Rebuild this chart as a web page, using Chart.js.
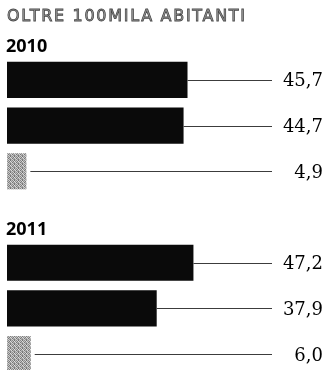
<!DOCTYPE html>
<html lang="it">
<head>
<meta charset="utf-8">
<title>Oltre 100mila abitanti</title>
<script src="https://cdn.jsdelivr.net/npm/chart.js@4.4.1/dist/chart.umd.min.js"></script>
<style>
  html, body { margin: 0; padding: 0; background: #fff; overflow: hidden; }
  #wrap { position: relative; width: 328px; height: 370px; overflow: hidden; }
  canvas { display: block; }
</style>
</head>
<body>
<div id="wrap"><canvas id="chart" width="328" height="382"></canvas></div>
<script>
// Heading and group years
const chartTitle = 'OLTRE 100MILA ABITANTI';
const years = ['2010', '2011'];

// Three answers per year
const values2010 = [45.7, 44.7, 4.9];
const values2011 = [47.2, 37.9, 6.0];

// One empty row separates the two year blocks
const rowValues = [...values2010, null, ...values2011];
const rowLabels = ['2010 a', '2010 b', '2010 c', '', '2011 a', '2011 b', '2011 c'];
const groupFirstRow = [0, 4];

// Stippled grey used for the small third bar
function stipple() {
  const c = document.createElement('canvas');
  c.width = 4; c.height = 4;
  const g = c.getContext('2d');
  const shades = [
    ['#8a8a8a', '#d0d0d0', '#6f6f6f', '#bdbdbd'],
    ['#c4c4c4', '#7b7b7b', '#e0e0e0', '#909090'],
    ['#757575', '#b5b5b5', '#9c9c9c', '#d8d8d8'],
    ['#cfcfcf', '#969696', '#808080', '#a8a8a8']
  ];
  for (let y = 0; y < 4; y++) for (let x = 0; x < 4; x++) {
    g.fillStyle = shades[y][x];
    g.fillRect(x, y, 1, 1);
  }
  return g.createPattern(c, 'repeat');
}
const grey = stipple();
const barColors = rowLabels.map((l, i) => (i % 4 === 2 ? grey : '#0a0a0a'));

const fmt = v => v.toFixed(1).replace('.', ',');

const annotations = {
  id: 'annotations',
  afterDatasetsDraw(chart) {
    const ctx = chart.ctx;
    const meta = chart.getDatasetMeta(0);
    const lineEnd = 272;
    ctx.save();
    meta.data.forEach((bar, i) => {
      const v = rowValues[i];
      if (v == null) return;
      const small = i % 4 === 2;
      const y = Math.round(bar.y) + 0.5;
      ctx.strokeStyle = '#3c3c3c';
      ctx.lineWidth = 1.2;
      ctx.beginPath();
      ctx.moveTo(bar.x + (small ? 4 : 0), y);
      ctx.lineTo(lineEnd, y);
      ctx.stroke();
      ctx.fillStyle = '#000';
      ctx.font = '18px "DejaVu Serif"';
      ctx.textAlign = 'right';
      ctx.textBaseline = 'alphabetic';
      ctx.fillText(fmt(v), 323, bar.y + 6.5);
    });
    // year headings above each block
    ctx.font = 'bold 18px "Open Sans"';
    ctx.fillStyle = '#000';
    ctx.textAlign = 'left';
    groupFirstRow.forEach((r, k) => {
      const bar = meta.data[r];
      ctx.fillText(years[k], 6, bar.y - bar.height / 2 - 10);
    });
    // heading
    ctx.font = '16px "DejaVu Sans"';
    ctx.letterSpacing = '1.7px';
    ctx.fillStyle = '#a0a0a0';
    ctx.strokeStyle = '#4a4a4a';
    ctx.lineWidth = 0.8;
    ctx.fillText(chartTitle, 7, 21);
    ctx.strokeText(chartTitle, 7, 21);
    ctx.restore();
  }
};

new Chart(document.getElementById('chart'), {
  type: 'bar',
  data: {
    labels: rowLabels,
    datasets: [{
      data: rowValues,
      backgroundColor: barColors,
      borderWidth: 0,
      categoryPercentage: 1,
      barPercentage: 0.79
    }]
  },
  options: {
    indexAxis: 'y',
    responsive: false,
    animation: false,
    layout: { padding: { top: 57, bottom: 5, left: 7, right: 5 } },
    plugins: { legend: { display: false }, tooltip: { enabled: false }, title: { display: false } },
    scales: {
      x: { min: 0, max: 80, display: false },
      y: { display: false }
    }
  },
  plugins: [annotations]
});
</script>
</body>
</html>
